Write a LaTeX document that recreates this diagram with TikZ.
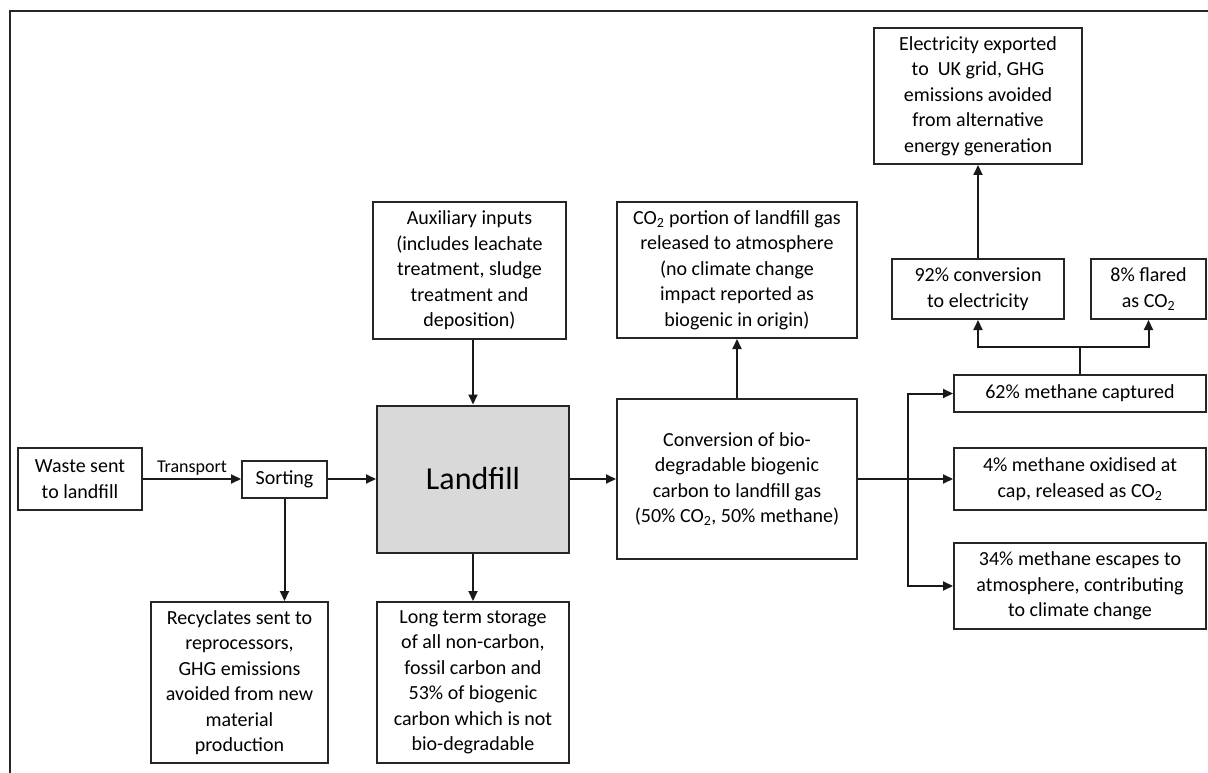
\documentclass[tikz,border=0pt]{standalone}
\usepackage{fontspec}
\setmainfont{Carlito}
\usetikzlibrary{arrows.meta}
\tikzset{
  bx/.style={draw=black!85, line width=2pt, inner sep=0pt, align=center,
    font=\fontsize{20}{25.5}\selectfont},
  arr/.style={line width=2pt, draw=black!90, -{Triangle[length=10pt,width=9pt]}},
  ln/.style={line width=2pt, draw=black!90},
}
\begin{document}
\begin{tikzpicture}[x=1pt,y=-1pt]
\useasboundingbox (0,0) rectangle (1208,773);
\fill[white] (0,0) rectangle (1208,773);
\draw[line width=2.2pt, black!85] (10,773) -- (10,11) -- (1208,11);

\node[bx, minimum width=124pt, minimum height=62pt] (waste) at (80,479) {Waste sent\\to landfill};
\node[bx, minimum width=85pt, minimum height=37pt] (sorting) at (284.5,479) {Sorting};
\node[bx, minimum width=192pt, minimum height=147pt, fill=black!15, font=\fontsize{32}{38}\selectfont] (landfill) at (473,479) {Landfill};
\node[bx, minimum width=193pt, minimum height=137pt] (aux) at (469.5,270.5) {Auxiliary inputs\\(includes leachate\\treatment, sludge\\treatment and\\deposition)};
\node[bx, minimum width=240pt, minimum height=136pt] (co2) at (737,270) {CO\textsubscript{2} portion of landfill gas\\released to atmosphere\\(no climate change\\impact reported as\\biogenic in origin)};
\node[bx, minimum width=240pt, minimum height=160pt] (conv) at (737,479) {Conversion of bio-\\degradable biogenic\\carbon to landfill gas\\(50\% CO\textsubscript{2}, 50\% methane)};
\node[bx, minimum width=177pt, minimum height=161pt] (recy) at (239.5,682.5) {Recyclates sent to\\reprocessors,\\GHG emissions\\avoided from new\\material\\production};
\node[bx, minimum width=192pt, minimum height=161pt] (long) at (473,682.5) {Long term storage\\of all non-carbon,\\fossil carbon and\\53\% of biogenic\\carbon which is not\\bio-degradable};
\node[bx, minimum width=252pt, minimum height=37pt] (m62) at (1080,393.5) {62\% methane captured};
\node[bx, minimum width=252pt, minimum height=62pt] (m4) at (1080,479) {4\% methane oxidised at\\cap, released as CO\textsubscript{2}};
\node[bx, minimum width=252pt, minimum height=86pt] (m34) at (1080,586) {34\% methane escapes to\\atmosphere, contributing\\to climate change};
\node[bx, minimum width=172pt, minimum height=60pt] (e92) at (978,289) {92\% conversion\\to electricity};
\node[bx, minimum width=115pt, minimum height=60pt] (f8) at (1148.5,289) {8\% flared\\as CO\textsubscript{2}};
\node[bx, minimum width=208pt, minimum height=136pt] (elec) at (978,96) {Electricity exported\\to~ UK grid, GHG\\emissions avoided\\from alternative\\energy generation};

\draw[arr] (waste.east) -- node[above=2pt, font=\fontsize{18}{22}\selectfont, inner sep=1pt] (tr) {Transport} (sorting.west |- waste.east);
\draw[arr] (sorting.east) -- (landfill.west |- sorting.east);
\draw[arr] (landfill.north |- aux.south) -- (landfill.north);
\draw[arr] (sorting.south) -- (sorting.south |- recy.north);
\draw[arr] (landfill.south) -- (long.north);
\draw[arr] (landfill.east) -- (conv.west |- landfill.east);
\draw[arr] (conv.north) -- (conv.north |- co2.south);
\coordinate (jn) at (908,479);
\draw[arr] (conv.east) -- (m4.west);
\draw[arr] (jn) |- (m62.west);
\draw[arr] (jn) |- (m34.west);
\coordinate (sp) at (1080,347);
\draw[ln] (m62.north) -- (sp);
\draw[arr] (sp) -| (e92.south);
\draw[arr] (sp) -| (f8.south);
\draw[arr] (e92.north) -- (elec.south);
\end{tikzpicture}
\end{document}
